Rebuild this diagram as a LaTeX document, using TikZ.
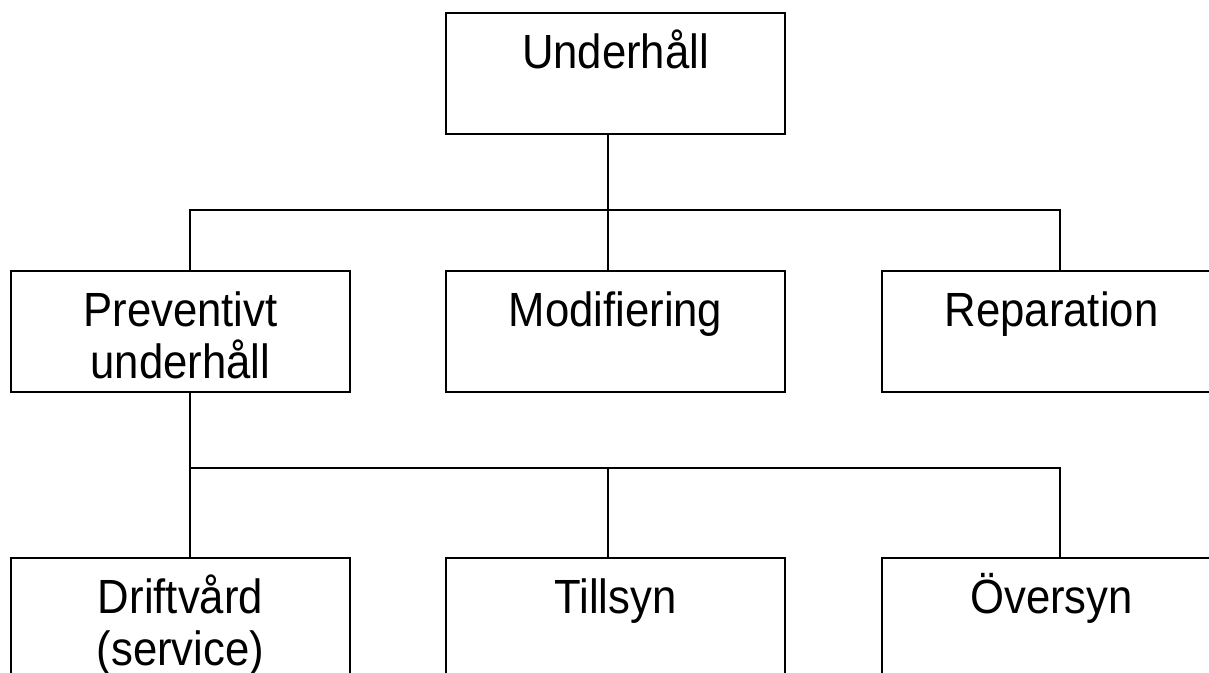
\documentclass[tikz,border=0pt]{standalone}
\usepackage{fontspec}
\setmainfont[FakeStretch=0.91]{Liberation Sans}
\begin{document}
\begin{tikzpicture}[x=1pt,y=-1pt,
  box/.style={draw=black,line width=2pt,fill=white,minimum width=339pt,minimum height=121pt,inner sep=0pt,outer sep=0pt,anchor=north west},
  lbl/.style={anchor=base,align=center,inner sep=0pt,font=\fontsize{48}{52}\selectfont},
  link/.style={draw=black,line width=2pt}]
\useasboundingbox (0,0) rectangle (1209,672);
\clip (0,0) rectangle (1209,672);
\fill[white] (0,0) rectangle (1209,672);

% boxes
\node[box] (top) at (446,13) {};
\node[box] (prev) at (11,271) {};
\node[box] (mod) at (446,271) {};
\node[box] (rep) at (882,271) {};
\node[box] (drift) at (11,558) {};
\node[box] (till) at (446,558) {};
\node[box] (over) at (882,558) {};

% labels, first baseline 55pt below each box top (base = last line)
\node[lbl] at ([yshift=-55pt]top.north) {Underhåll};
\node[lbl] at ([yshift=-107pt]prev.north) {Preventivt\\underhåll};
\node[lbl] at ([yshift=-55pt]mod.north) {Modifiering};
\node[lbl] at ([yshift=-55pt]rep.north) {Reparation};
\node[lbl] at ([yshift=-107pt]drift.north) {Driftvård\\(service)};
\node[lbl] at ([yshift=-55pt]till.north) {Tillsyn};
\node[lbl] at ([yshift=-55pt]over.north) {Översyn};

% first level bus
\coordinate (j1) at (608,210);
\draw[link] ([xshift=-7.5pt]top.south) -- (j1);
\draw[link] ([xshift=9pt]prev.north) |- (j1) -| ([xshift=8.5pt]rep.north);
\draw[link] (j1) -- ([xshift=-7.5pt]mod.north);

% second level bus
\coordinate (j2) at (608,468);
\draw[link] ([xshift=9pt]prev.south) -- ([xshift=9pt]drift.north);
\draw[link] ([xshift=9pt]prev.south |- j2) -- (j2) -| ([xshift=8.5pt]over.north);
\draw[link] (j2) -- ([xshift=-7.5pt]till.north);
\end{tikzpicture}
\end{document}
